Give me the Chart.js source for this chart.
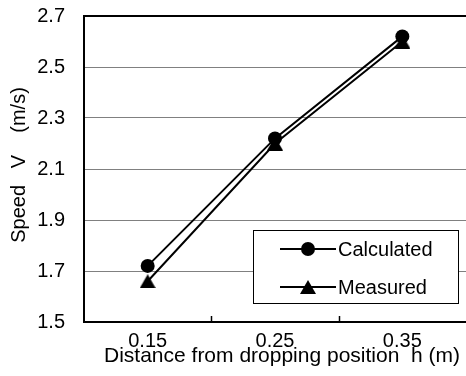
<!DOCTYPE html>
<html>
<head>
<meta charset="utf-8">
<script src="https://cdn.jsdelivr.net/npm/chart.js@4/dist/chart.umd.min.js"></script>
<style>
  html, body { margin: 0; padding: 0; background: #fff; overflow: hidden; }
  canvas { display: block; }
</style>
</head>
<body>
<canvas id="c" width="466" height="376"></canvas>
<script>
// Drop height categories (m)
const distances = ['0.15', '0.25', '0.35'];
// Speed at each height (m/s)
const calculated = [1.72, 2.22, 2.62];
const measured = [1.66, 2.20, 2.60];
// Axis labels
const xTitle = 'Distance from dropping position  h (m)';
const yTitle = 'Speed   V    (m/s)';
const yMin = 1.5, yMax = 2.7, yStep = 0.2;

const FONT = '"Liberation Sans", Arial, sans-serif';
const FS = 20;

// Filled triangle marker, centred in its own box
function makeTriangle(w, h) {
  const cv = document.createElement('canvas');
  cv.width = w; cv.height = h;
  const g = cv.getContext('2d');
  g.fillStyle = '#000';
  g.beginPath();
  g.moveTo(w / 2, 0);
  g.lineTo(w, h);
  g.lineTo(0, h);
  g.closePath();
  g.fill();
  return cv;
}
const triangle = makeTriangle(16, 14);

// Inside tick marks between categories, axis titles and the boxed legend
const decorations = {
  id: 'decorations',
  afterDatasetsDraw(chart) {
    const { ctx, chartArea: a, scales: { x } } = chart;
    ctx.save();
    // tick marks pointing up into the plot
    ctx.strokeStyle = '#000';
    ctx.lineWidth = 1.5;
    for (let i = 1; i < distances.length; i++) {
      const px = Math.round((x.getPixelForTick(i - 1) + x.getPixelForTick(i)) / 2) + 0.5;
      ctx.beginPath();
      ctx.moveTo(px, a.bottom);
      ctx.lineTo(px, a.bottom - 6);
      ctx.stroke();
    }

    // legend
    const bw = 205, bh = 73;
    const bx = a.right - 8 - bw, by = a.bottom - 19 - bh;
    ctx.fillStyle = '#fff';
    ctx.fillRect(bx, by, bw, bh);
    ctx.strokeStyle = '#000';
    ctx.lineWidth = 1;
    ctx.strokeRect(Math.round(bx) + 0.5, Math.round(by) + 0.5, bw, bh);
    ctx.font = FS + 'px ' + FONT;
    ctx.textBaseline = 'middle';
    ctx.textAlign = 'left';
    chart.data.datasets.forEach((ds, i) => {
      const ry = by + 19 + i * 38;
      const lx = bx + 27;
      ctx.strokeStyle = '#000';
      ctx.lineWidth = 2;
      ctx.beginPath();
      ctx.moveTo(lx, ry);
      ctx.lineTo(lx + 56, ry);
      ctx.stroke();
      const mx = lx + 28;
      if (ds.pointStyle === 'circle') {
        ctx.fillStyle = '#000';
        ctx.beginPath();
        ctx.arc(mx, ry, ds.pointRadius, 0, Math.PI * 2);
        ctx.fill();
      } else {
        ctx.drawImage(ds.pointStyle, mx - ds.pointStyle.width / 2, ry - ds.pointStyle.height / 2);
      }
      ctx.fillStyle = '#000';
      ctx.fillText(ds.label, lx + 58, ry + 1);
    });

    // axis titles
    ctx.fillStyle = '#000';
    ctx.textAlign = 'center';
    ctx.textBaseline = 'middle';
    ctx.font = '21px ' + FONT;
    ctx.fillText(xTitle, (a.left + a.right) / 2 + 7, a.bottom + 34);
    ctx.font = FS + 'px ' + FONT;
    ctx.save();
    ctx.translate(19, (a.top + a.bottom) / 2 - 4);
    ctx.rotate(-Math.PI / 2);
    ctx.fillText(yTitle, 0, 0);
    ctx.restore();
    ctx.restore();
  }
};

// The plot frame is placed by the layout padding alone
function noScalePadding(s) {
  s.paddingTop = 0; s.paddingBottom = 0;
  s.paddingLeft = 0; s.paddingRight = 0;
}

new Chart(document.getElementById('c'), {
  type: 'line',
  data: {
    labels: distances,
    datasets: [
      {
        label: 'Calculated',
        data: calculated,
        borderColor: '#000',
        backgroundColor: '#000',
        borderWidth: 2,
        pointStyle: 'circle',
        pointRadius: 7,
        pointBackgroundColor: '#000',
        pointBorderWidth: 0,
        tension: 0
      },
      {
        label: 'Measured',
        data: measured,
        borderColor: '#000',
        backgroundColor: '#000',
        borderWidth: 2,
        pointStyle: triangle,
        pointRadius: 8,
        pointBackgroundColor: '#000',
        pointBorderWidth: 0,
        tension: 0
      }
    ]
  },
  options: {
    responsive: false,
    animation: false,
    layout: { autoPadding: false, padding: { top: 16, right: 0, bottom: 0, left: 0 } },
    plugins: { legend: { display: false }, tooltip: { enabled: false } },
    scales: {
      x: {
        type: 'category',
        offset: true,
        grid: { display: true, offset: true, drawOnChartArea: false, drawTicks: false },
        border: { display: true, color: '#000', width: 2 },
        ticks: { color: '#000', font: { family: FONT, size: FS }, padding: 7, maxRotation: 0 },
        afterFit(s) { s.height = 54; noScalePadding(s); }
      },
      y: {
        min: yMin,
        max: yMax,
        grid: {
          drawTicks: false,
          color: c => (c.tick && Math.abs(c.tick.value - yMax) < 1e-9) ? '#000' : '#808080',
          lineWidth: c => (c.tick && Math.abs(c.tick.value - yMax) < 1e-9) ? 2 : 1
        },
        border: { display: true, color: '#000', width: 2 },
        ticks: {
          stepSize: yStep,
          color: '#000',
          font: { family: FONT, size: FS },
          padding: 19,
          callback: v => Number(v).toFixed(1)
        },
        afterFit(s) { s.width = 84; noScalePadding(s); }
      }
    }
  },
  plugins: [decorations]
});
</script>
</body>
</html>
